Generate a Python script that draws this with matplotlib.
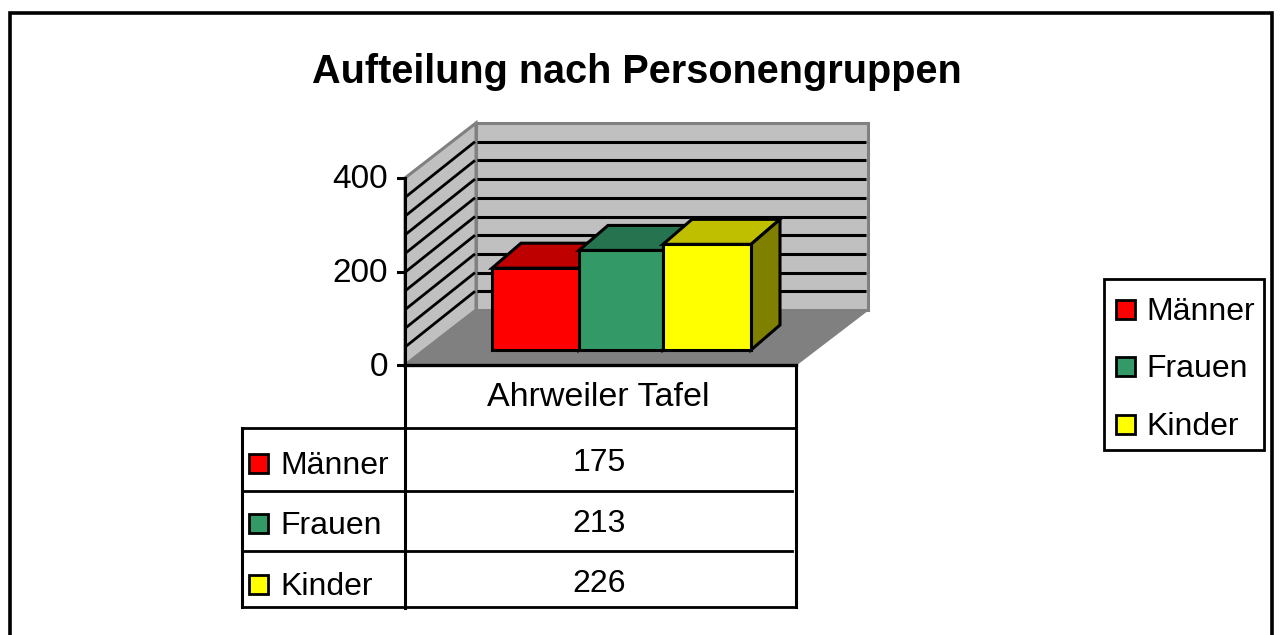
import matplotlib
matplotlib.use('Agg')
import matplotlib.pyplot as plt
from matplotlib.patches import Polygon, Rectangle

plt.rcParams['font.family'] = ['Liberation Sans', 'DejaVu Sans']

title = 'Aufteilung nach Personengruppen'
category = 'Ahrweiler Tafel'
series = ['Männer', 'Frauen', 'Kinder']
values = [175, 213, 226]
colors = ['#ff0000', '#339966', '#ffff00']
top_colors = ['#bf0000', '#267350', '#bfbf00']
side_colors = ['#800000', '#1a4d33', '#808000']
y_ticks = [0, 200, 400]
y_grid = [40, 80, 120, 160, 200, 240, 280, 320, 360]

# everything is laid out in pixels of the original picture
fig = plt.figure(figsize=(12.82, 6.35), dpi=100)
ax = fig.add_axes([0, 0, 1, 1])
ax.set_xlim(0, 1282)
ax.set_ylim(635, 0)
ax.axis('off')

px_per_unit = 187 / 400
front_x0, front_x1, front_y0 = 405, 796, 365
back_dx, back_dy = 72, 55


def front_y(v):
    return front_y0 - v * px_per_unit


def poly(pts, fc, ec='black', lw=2.2, z=2):
    ax.add_patch(Polygon(pts, closed=True, facecolor=fc, edgecolor=ec,
                         linewidth=lw, joinstyle='miter', zorder=z))


# outer frame, bottom edge runs off the picture
ax.add_patch(Rectangle((10, 13), 1262, 640, facecolor='white',
                       edgecolor='black', linewidth=2.6, zorder=0))

ax.text(636.5, 72, title, fontsize=28.5, fontweight='bold', ha='center', va='center')

# walls and floor
back_top = front_y(400) - back_dy
back_bot = front_y0 - back_dy
bx0, bx1 = front_x0 + back_dx - 1, front_x1 + back_dx
poly([(bx0, back_top), (bx1, back_top), (bx1, back_bot), (bx0, back_bot)], '#c0c0c0', '#808080', 2.2, 1)
poly([(front_x0, front_y(400)), (bx0, back_top), (bx0, back_bot), (front_x0, front_y0)], '#c0c0c0', '#808080', 2.2, 1)
poly([(front_x0, front_y0), (bx0, back_bot), (bx1, back_bot), (front_x1, front_y0)], '#808080', '#808080', 1, 1)

for g in y_grid:
    y = front_y(g)
    ax.plot([bx0 + 1, bx1 - 2], [y - back_dy, y - back_dy], color='black', lw=2.2, zorder=1.5, solid_capstyle='butt')
    ax.plot([front_x0 + 1, bx0 - 1], [y, y - back_dy], color='black', lw=2.0, zorder=1.5, solid_capstyle='butt')

# bars
bar_edges = [492, 579, 663, 751]
bar_base = 350
bar_dx, bar_dy = 29, 25
for i in range(len(values)):
    x0, x1 = bar_edges[i], bar_edges[i + 1]
    top = bar_base - values[i] * px_per_unit
    poly([(x0, top), (x0 + bar_dx, top - bar_dy), (x1 + bar_dx, top - bar_dy), (x1, top)], top_colors[i], z=3 + i)
    poly([(x1, top), (x1 + bar_dx, top - bar_dy), (x1 + bar_dx, bar_base - bar_dy), (x1, bar_base)], side_colors[i], z=3 + i)
    poly([(x0, top), (x1, top), (x1, bar_base), (x0, bar_base)], colors[i], z=3 + i + 0.5)

# value axis
ax.plot([front_x0, front_x0], [front_y(400), 608], color='black', lw=2.2, zorder=6)
ax.plot([front_x0, front_x1], [front_y0, front_y0], color='black', lw=2.4, zorder=6)
for t in y_ticks:
    ax.plot([front_x0 - 7, front_x0], [front_y(t), front_y(t)], color='black', lw=2.2, zorder=6)
    ax.text(388, front_y(t) + 2, str(t), fontsize=24, ha='right', va='center')

# data table
row_lines = [428, 491, 551, 607]
row_ends = [796, 792, 792, 796]
ax.plot([front_x1, front_x1], [front_y0, 607], color='black', lw=2.2)
ax.plot([242, 242], [row_lines[0], row_lines[-1]], color='black', lw=2.2)
for i in range(len(row_lines)):
    ax.plot([242, row_ends[i]], [row_lines[i], row_lines[i]], color='black', lw=2.0)
ax.text(598, 397, category, fontsize=24.5, ha='center', va='center')
row_centres = [463, 524, 584]
key_ys = [463, 523, 584]
for i in range(len(series)):
    ax.text(599, row_centres[i], str(values[i]), fontsize=23, ha='center', va='center')
    ax.text(280, key_ys[i] + 3, series[i], fontsize=23, ha='left', va='center')
    ax.add_patch(Rectangle((249, key_ys[i] - 9.5), 19, 19, facecolor=colors[i], edgecolor='black', linewidth=2))

# legend
ax.add_patch(Rectangle((1104, 279), 160, 171, facecolor='white', edgecolor='black', linewidth=2))
legend_ys = [309, 366, 424]
for i in range(len(series)):
    ax.text(1146, legend_ys[i] + 3, series[i], fontsize=23, ha='left', va='center')
    ax.add_patch(Rectangle((1116, legend_ys[i] - 9.5), 19, 19, facecolor=colors[i], edgecolor='black', linewidth=2))

fig.savefig('out.png', dpi=100)
